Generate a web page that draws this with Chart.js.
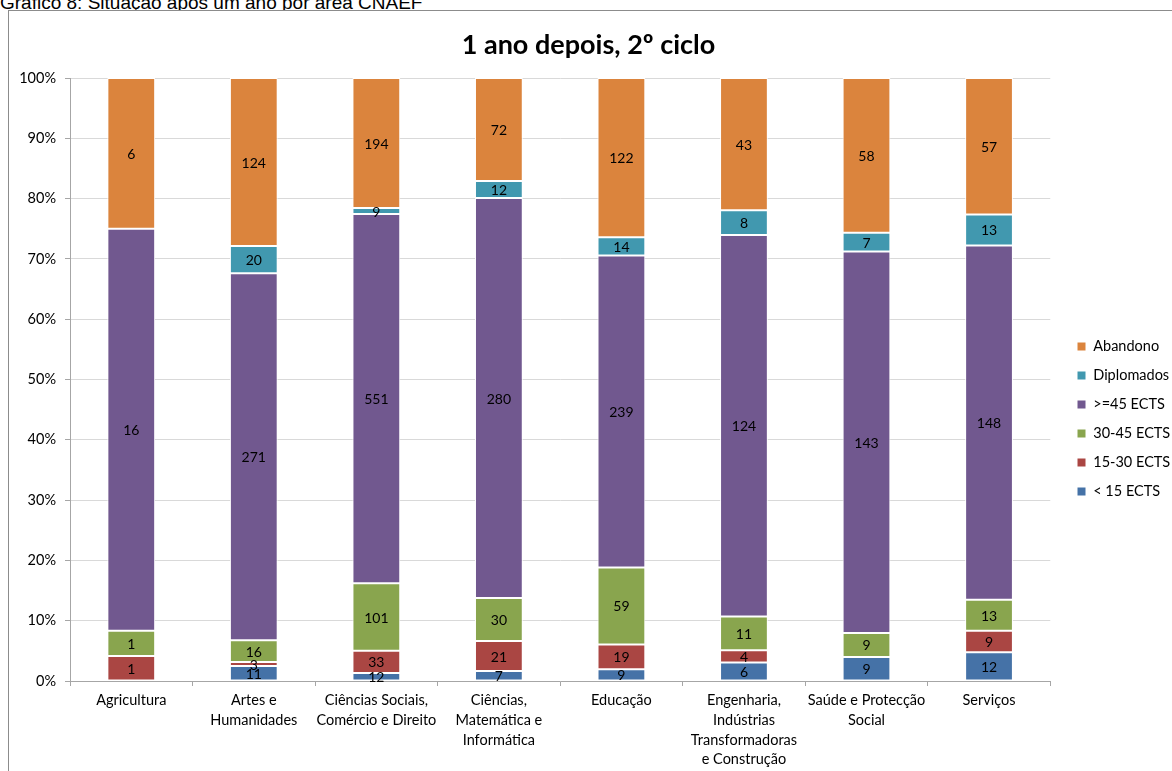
<!DOCTYPE html>
<html lang="pt">
<head>
<meta charset="utf-8">
<script src="https://cdn.jsdelivr.net/npm/chart.js@4"></script>
<style>
  html, body { margin: 0; padding: 0; background: #fff; overflow: hidden; }
  #page-title {
    position: absolute; left: 0; top: -8px; line-height: 19px;
    font: 19px "Liberation Sans", Arial, sans-serif; color: #000; white-space: nowrap;
  }
  #frame {
    position: absolute; left: 8px; top: 10px; width: 1200px; height: 820px;
    border: 1px solid #8c8c8c; box-sizing: border-box;
  }
  #wrap { position: absolute; left: 0; top: 0; width: 1163px; height: 800px; }
</style>
</head>
<body>
<div id="page-title">Gráfico 8: Situação após um ano por área CNAEF</div>
<div id="frame">
  <div id="wrap"><canvas id="chart"></canvas></div>
</div>
<script>
'use strict';

// ── DATA ───────────────────────────────────────────────────
const CATEGORIES = [
  'Agricultura',
  ['Artes e', 'Humanidades'],
  ['Ciências Sociais,', 'Comércio e Direito'],
  ['Ciências,', 'Matemática e', 'Informática'],
  'Educação',
  ['Engenharia,', 'Indústrias', 'Transformadoras', 'e Construção'],
  ['Saúde e Protecção', 'Social'],
  'Serviços'
];
const LT15    = [0, 11, 12, 7, 9, 6, 9, 12];
const E15_30  = [1, 3, 33, 21, 19, 4, 0, 9];
const E30_45  = [1, 16, 101, 30, 59, 11, 9, 13];
const GE45    = [16, 271, 551, 280, 239, 124, 143, 148];
const DIPLOM  = [0, 20, 9, 12, 14, 8, 7, 13];
const ABANDON = [6, 124, 194, 72, 122, 43, 58, 57];
const Y_TICKS = [0, 10, 20, 30, 40, 50, 60, 70, 80, 90, 100];

const SERIES = [
  { label: '< 15 ECTS',  counts: LT15,    color: '#4572a7' },
  { label: '15-30 ECTS', counts: E15_30,  color: '#aa4643' },
  { label: '30-45 ECTS', counts: E30_45,  color: '#89a54e' },
  { label: '>=45 ECTS',  counts: GE45,    color: '#71588f' },
  { label: 'Diplomados', counts: DIPLOM,  color: '#4198af' },
  { label: 'Abandono',   counts: ABANDON, color: '#db843d' }
];

const TOTALS = CATEGORIES.map((_, i) => SERIES.reduce((a, s) => a + s.counts[i], 0));

const FONT = 'Lato, "Open Sans", sans-serif';
const FS = 14.5;

// ── PLUGINS ────────────────────────────────────────────────
const countLabels = {
  id: 'countLabels',
  afterDatasetsDraw(chart) {
    const ctx = chart.ctx;
    ctx.save();
    ctx.font = '14px ' + FONT;
    ctx.fillStyle = '#000';
    ctx.textAlign = 'center';
    ctx.textBaseline = 'middle';
    chart.data.datasets.forEach((ds, di) => {
      const meta = chart.getDatasetMeta(di);
      meta.data.forEach((bar, i) => {
        const n = ds.counts[i];
        if (!n) return;
        ctx.fillText(String(n), bar.x, (bar.y + bar.base) / 2 + 1);
      });
    });
    ctx.restore();
  }
};

// place the legend where Excel put it (box at page x 1077, items centred lower)
const legendPlace = {
  id: 'legendPlace',
  afterLayout(chart) {
    const lg = chart.legend;
    const dx = (1077 - 9 - lg.options.labels.padding) - lg.left;
    const dy = 8;
    lg.left += dx; lg.right += dx;
    lg.top += dy; lg.bottom += dy;
  }
};

const whiteBg = {
  id: 'whiteBg',
  beforeDraw(chart) {
    const c = chart.ctx;
    c.save();
    c.fillStyle = '#fff';
    c.fillRect(0, 0, chart.width, chart.height);
    c.restore();
  }
};

// ── CHART ──────────────────────────────────────────────────
new Chart(document.getElementById('chart'), {
  type: 'bar',
  data: {
    labels: CATEGORIES,
    datasets: SERIES.map(s => ({
      label: s.label,
      counts: s.counts,
      data: s.counts.map((v, i) => v / TOTALS[i] * 100),
      backgroundColor: s.color,
      borderColor: '#ffffff',
      borderWidth: 1,
      borderSkipped: false,
      categoryPercentage: 1,
      barPercentage: 0.39
    }))
  },
  options: {
    responsive: true,
    maintainAspectRatio: false,
    animation: false,
    layout: { padding: { left: 0, right: 4, top: 0, bottom: 0 } },
    plugins: {
      title: {
        display: true,
        text: '1 ano depois, 2º ciclo',
        color: '#000',
        font: { family: FONT, size: 27, weight: 'bold' },
        padding: { top: 17.8, bottom: 16.8 }
      },
      legend: {
        position: 'right',
        reverse: true,
        labels: {
          boxWidth: 9, boxHeight: 9, padding: 14.5,
          color: '#000',
          font: { family: FONT, size: FS }
        }
      },
      tooltip: { enabled: false }
    },
    scales: {
      x: {
        stacked: true,
        grid: {
          offset: true, drawOnChartArea: false, drawTicks: true,
          tickLength: 5, color: '#a6a6a6'
        },
        border: { color: '#a6a6a6' },
        ticks: {
          color: '#000', maxRotation: 0, autoSkip: false, padding: 5,
          font: { family: FONT, size: FS, lineHeight: 1.35 }
        },
        afterFit(scale) { scale.height = 130; }
      },
      y: {
        stacked: true,
        min: 0, max: 100,
        afterBuildTicks(scale) { scale.ticks = Y_TICKS.map(v => ({ value: v })); },
        grid: { color: '#d9d9d9', tickLength: 5, tickColor: '#a6a6a6' },
        border: { color: '#a6a6a6' },
        ticks: {
          color: '#000', padding: 9,
          font: { family: FONT, size: FS },
          callback: v => v + '%'
        },
        afterFit(scale) { scale.width = 61; }
      }
    }
  },
  plugins: [whiteBg, legendPlace, countLabels]
});
</script>
</body>
</html>
